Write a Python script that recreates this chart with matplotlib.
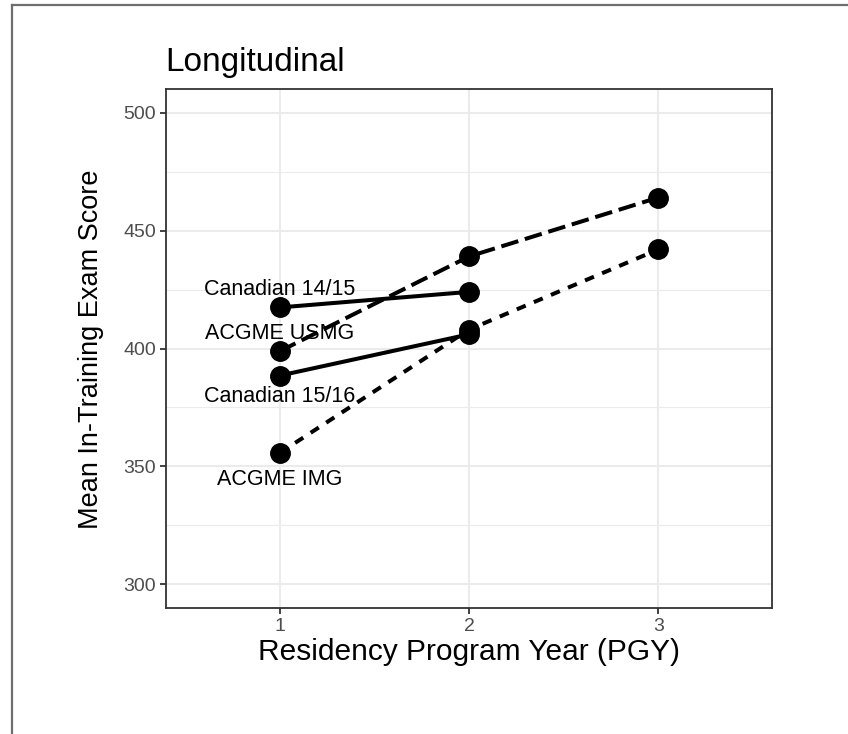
import matplotlib
matplotlib.use("Agg")
from matplotlib import pyplot as plt
from matplotlib.lines import Line2D

plt.rcParams['font.family'] = ['Liberation Sans', 'DejaVu Sans']

# mean in-training exam score by program year
pgy = [1, 2, 3]
canadian_1415 = [417.4, 424.0]
canadian_1516 = [388.5, 406.0]
acgme_usmg = [398.8, 439.0, 464.0]
acgme_img = [355.7, 408.0, 442.0]

# direct labels next to the PGY1 points
label_names = ["Canadian 14/15", "ACGME USMG", "Canadian 15/16", "ACGME IMG"]
label_y = [425.0, 406.5, 379.5, 344.5]

W, H = 848, 734
fig = plt.figure(figsize=(W / 100, H / 100), dpi=100)
ax = fig.add_axes([166 / W, 1 - 608 / H, (772 - 166) / W, (608 - 89) / H])

# series: solid for canadian, dashed / short dashed for acgme
lw = 2.9
ms = 14
ax.plot(pgy[:2], canadian_1415, color="black", lw=lw, marker="o", ms=ms, zorder=3)
ax.plot(pgy[:2], canadian_1516, color="black", lw=lw, marker="o", ms=ms, zorder=3)
ax.plot(pgy, acgme_usmg, color="black", lw=lw, marker="o", ms=ms,
        dashes=(4.4, 1.7), zorder=3)
ax.plot(pgy, acgme_img, color="black", lw=lw, marker="o", ms=ms,
        dashes=(2.4, 2.2), zorder=3)

for name, y in zip(label_names, label_y):
    ax.text(1, y, name, ha="center", va="center", fontsize=15.5, color="black", zorder=4)

# ggplot theme_bw look
ax.set_xlim(0.4, 3.6)
ax.set_ylim(290, 510)
ax.set_xticks([1, 2, 3])
ax.set_yticks([300, 350, 400, 450, 500])
ax.set_yticks([325, 375, 425, 475], minor=True)
ax.tick_params(axis="both", which="major", length=4, width=1.3, color="#333333",
               labelsize=14, labelcolor="#4D4D4D", pad=3)
ax.tick_params(axis="y", which="minor", length=0)
ax.grid(True, which="major", color="#EBEBEB", lw=1.5, zorder=0)
ax.grid(True, which="minor", axis="y", color="#EBEBEB", lw=0.8, zorder=0)
ax.set_axisbelow(True)
for sp in ax.spines.values():
    sp.set_color("#333333")
    sp.set_linewidth(1.3)

fig.text(165 / W, 1 - 62 / H, "Longitudinal", fontsize=24, ha="left", va="center")
fig.text(469 / W, 1 - 652 / H, "Residency Program Year (PGY)", fontsize=21.5,
         ha="center", va="center")
fig.text(91 / W, 1 - 349 / H, "Mean In-Training Exam Score", fontsize=19.5,
         ha="center", va="center", rotation=90)

# frame round the figure (top and left only, as in the cropped source)
fig.add_artist(Line2D([12 / W, 12 / W], [0, 1 - 5 / H], color="#6E6E6E", lw=1.6))
fig.add_artist(Line2D([12 / W, 1], [1 - 5 / H, 1 - 5 / H], color="#6E6E6E", lw=1.6))

fig.savefig("out.png", dpi=100, facecolor="white")
